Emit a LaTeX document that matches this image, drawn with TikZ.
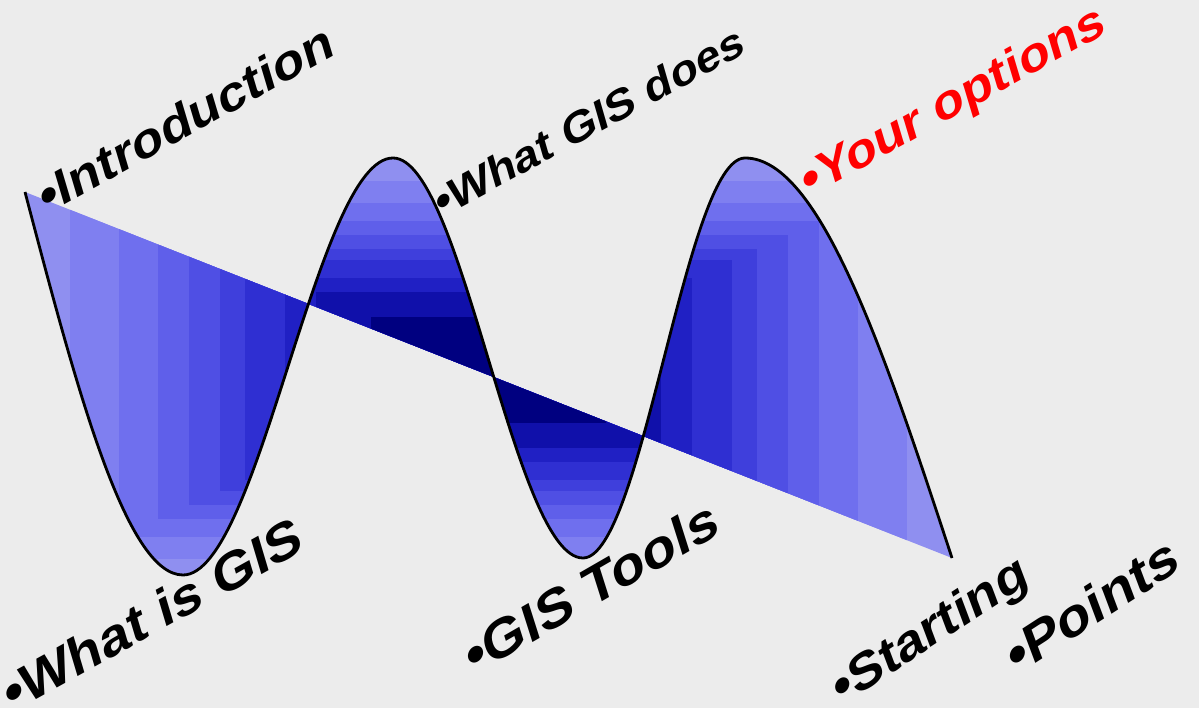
\documentclass[tikz,border=0pt]{standalone}
\usepackage{fontspec}
\setmainfont{Liberation Sans}
\definecolor{bgc}{RGB}{236,236,236}
\definecolor{lv0}{RGB}{143,143,240}
\definecolor{lv1}{RGB}{127,127,240}
\definecolor{lv2}{RGB}{111,111,238}
\definecolor{lv3}{RGB}{95,95,234}
\definecolor{lv4}{RGB}{79,79,228}
\definecolor{lv5}{RGB}{63,63,220}
\definecolor{lv6}{RGB}{47,47,210}
\definecolor{lv7}{RGB}{32,32,196}
\definecolor{lv8}{RGB}{16,16,170}
\definecolor{lv9}{RGB}{0,0,128}
\definecolor{redtxt}{RGB}{255,0,0}
\begin{document}
\begin{tikzpicture}[x=1pt,y=-1pt,
  lbl/.style={inner sep=0pt, anchor=base west, xslant=0.22, xscale=1.12},
  wave/.style={draw=black, line width=2.8pt, line join=round}]
\useasboundingbox (0,0) rectangle (1199,708);
\fill[bgc] (0,0) rectangle (1199,708);
% shaded lobes
\begin{scope}
\clip (25,192) .. controls (76.5,388) and (126,575) .. (183,575)
  .. controls (259,575) and (317,158) .. (393,158)
  .. controls (462,158) and (514,558) .. (583,558)
  .. controls (642,558) and (686,158) .. (745,158)
  .. controls (820,158) and (884.5,353) .. (952,558) -- cycle;
\foreach \f/\c in {0/lv0,0.108/lv1,0.212/lv2,0.297/lv3,0.363/lv4,0.429/lv5,0.481/lv6,0.566/lv7,0.632/lv8,0.75/lv9}{
  \pgfmathsetmacro{\hw}{469.5*(1-\f)}
  \pgfmathsetmacro{\hh}{212*(1-\f)}
  \fill[\c] (488.5-\hw,370-\hh) rectangle (488.5+\hw,370+\hh);
}
\end{scope}
\draw[wave] (25,192) .. controls (76.5,388) and (126,575) .. (183,575)
  .. controls (259,575) and (317,158) .. (393,158)
  .. controls (462,158) and (514,558) .. (583,558)
  .. controls (642,558) and (686,158) .. (745,158)
  .. controls (820,158) and (884.5,353) .. (952,558);
% labels
\node[rotate=29, lbl, font=\fontsize{48}{52}\selectfont\bfseries] (intro) at (45,216) {•Introduction};
\node[rotate=29, lbl, font=\fontsize{51}{54}\selectfont\bfseries] (whatis) at (10,714) {•What is GIS};
\node[rotate=28.5, lbl, font=\fontsize{42}{46}\selectfont\bfseries] (does) at (440,219) {•What GIS does};
\node[rotate=29, lbl, font=\fontsize{47.5}{50}\selectfont\bfseries, text=redtxt] (options) at (807,199) {•Your options};
\node[rotate=30, lbl, font=\fontsize{52}{56}\selectfont\bfseries] (tools) at (472,677) {•GIS Tools};
\node[rotate=33, lbl, font=\fontsize{49}{52}\selectfont\bfseries] (starting) at (840,707) {•Starting};
\node[rotate=33, lbl, font=\fontsize{52}{56}\selectfont\bfseries] (points) at (1015,677) {•Points};
\end{tikzpicture}
\end{document}
